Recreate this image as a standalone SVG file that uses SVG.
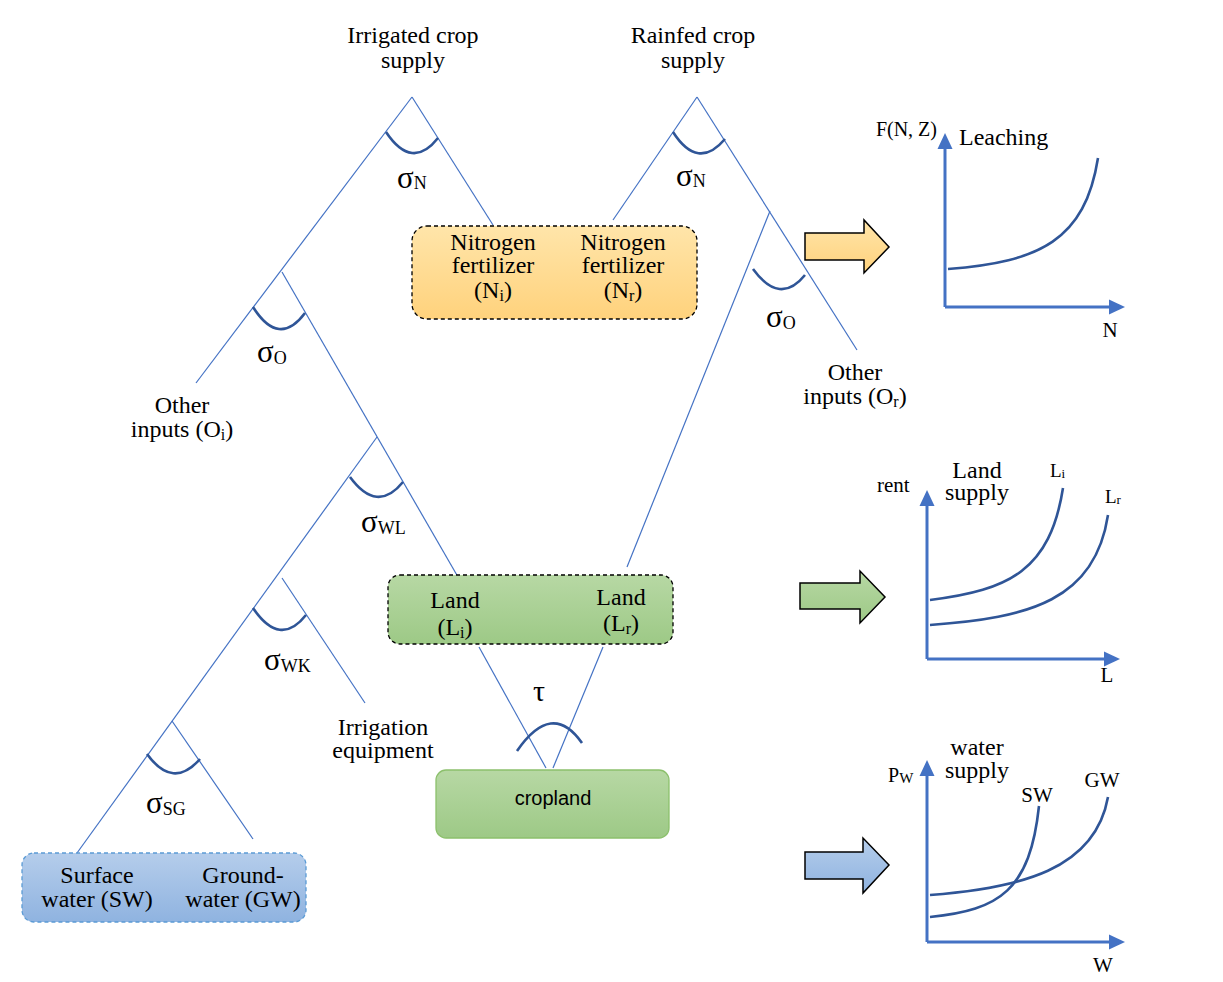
<svg xmlns="http://www.w3.org/2000/svg" width="1223" height="982" viewBox="0 0 1223 982">
<style>
.t{font-family:"Liberation Serif","Times New Roman",serif;font-size:24px;fill:#000;text-anchor:middle}
.s{font-family:"Liberation Serif","Times New Roman",serif;font-size:31px;fill:#000}
.sub{font-size:18px}
.lab{font-family:"Liberation Serif","Times New Roman",serif;font-size:21px;fill:#000}
.edge{stroke:#4472C4;stroke-width:1.2;fill:none}
.arc{stroke:#2F5597;stroke-width:2.6;fill:none}
.axis{stroke:#4472C4;stroke-width:3;fill:none}
.head{fill:#4472C4}
.curve{stroke:#2F5597;stroke-width:2.6;fill:none}
.blk{stroke:#000;stroke-width:1.5}
</style>
<defs>
<linearGradient id="gO" x1="0" y1="0" x2="0" y2="1"><stop offset="0" stop-color="#FFE5AA"/><stop offset="1" stop-color="#FFD27C"/></linearGradient>
<linearGradient id="gG" x1="0" y1="0" x2="0" y2="1"><stop offset="0" stop-color="#B7D8A4"/><stop offset="1" stop-color="#9DC986"/></linearGradient>
<linearGradient id="gB" x1="0" y1="0" x2="0" y2="1"><stop offset="0" stop-color="#B5CDEB"/><stop offset="1" stop-color="#8FB3E0"/></linearGradient>
</defs>
<rect width="1223" height="982" fill="#fff"/>

<g id="connectors">
<line class="edge" x1="412" y1="97" x2="196" y2="383"/>
<line class="edge" x1="412" y1="97" x2="493" y2="225"/>
<line class="edge" x1="282" y1="272" x2="458" y2="577"/>
<line class="edge" x1="377" y1="437" x2="77" y2="853"/>
<line class="edge" x1="282" y1="578" x2="365" y2="703"/>
<line class="edge" x1="172" y1="721" x2="253" y2="839"/>
<line class="edge" x1="697" y1="97" x2="613" y2="220"/>
<line class="edge" x1="697" y1="97" x2="857" y2="350"/>
<line class="edge" x1="770" y1="211" x2="627" y2="567"/>
<line class="edge" x1="479" y1="647" x2="546" y2="768"/>
<line class="edge" x1="603" y1="647" x2="553" y2="768"/>
<path class="arc" d="M386,132 Q412,171 438,138"/>
<path class="arc" d="M673,132 Q698,171 725,139"/>
<path class="arc" d="M253,307 Q279,348 305,313"/>
<path class="arc" d="M350,477 Q377,514 403,482"/>
<path class="arc" d="M753,269 Q780,306 805,275"/>
<path class="arc" d="M253,608 Q280,648 306,615"/>
<path class="arc" d="M147,754 Q173,790 200,759"/>
<path class="arc" d="M517,751 Q552,700 582,743"/>
</g>

<g id="labels">
<text class="s" x="397" y="188">σ<tspan class="sub" dy="1">N</tspan></text>
<text class="s" x="676" y="186">σ<tspan class="sub" dy="1">N</tspan></text>
<text class="s" x="257" y="362">σ<tspan class="sub" dy="2">O</tspan></text>
<text class="s" x="766" y="327">σ<tspan class="sub" dy="2">O</tspan></text>
<text class="s" x="361" y="532">σ<tspan class="sub" dy="2">WL</tspan></text>
<text class="s" x="264" y="670">σ<tspan class="sub" dy="2">WK</tspan></text>
<text class="s" x="146" y="813">σ<tspan class="sub" dy="2">SG</tspan></text>
<text class="t" x="539" y="701" style="font-size:30px">τ</text>
</g>

<g id="irrigated-supply"><text class="t" x="413" y="43">Irrigated crop</text><text class="t" x="413" y="68">supply</text></g>
<g id="rainfed-supply"><text class="t" x="693" y="43">Rainfed crop</text><text class="t" x="693" y="68">supply</text></g>

<g id="nitrogen">
<rect x="412" y="226" width="285" height="93" rx="15" fill="url(#gO)" stroke="#000" stroke-width="1.3" stroke-dasharray="4,3"/>
<text class="t" x="493" y="250">Nitrogen</text><text class="t" x="493" y="273">fertilizer</text>
<text class="t" x="493" y="298">(N<tspan font-size="16" dy="3">i</tspan><tspan dy="-3">)</tspan></text>
<text class="t" x="623" y="250">Nitrogen</text><text class="t" x="623" y="273">fertilizer</text>
<text class="t" x="623" y="298">(N<tspan font-size="16" dy="3">r</tspan><tspan dy="-3">)</tspan></text>
</g>

<g id="other-inputs-i"><text class="t" x="182" y="413">Other</text><text class="t" x="182" y="437">inputs (O<tspan font-size="16" dy="3">i</tspan><tspan dy="-3">)</tspan></text></g>
<g id="other-inputs-r"><text class="t" x="855" y="380">Other</text><text class="t" x="855" y="404">inputs (O<tspan font-size="16" dy="3">r</tspan><tspan dy="-3">)</tspan></text></g>
<g id="irrigation-equipment"><text class="t" x="383" y="735">Irrigation</text><text class="t" x="383" y="758">equipment</text></g>

<g id="land">
<rect x="388" y="575" width="285" height="69" rx="12" fill="url(#gG)" stroke="#000" stroke-width="1.3" stroke-dasharray="4,3"/>
<text class="t" x="455" y="608">Land</text><text class="t" x="455" y="635">(L<tspan font-size="16" dy="3">i</tspan><tspan dy="-3">)</tspan></text>
<text class="t" x="621" y="605">Land</text><text class="t" x="621" y="631">(L<tspan font-size="16" dy="3">r</tspan><tspan dy="-3">)</tspan></text>
</g>

<g id="cropland">
<rect x="436" y="770" width="233" height="68" rx="10" fill="url(#gG)" stroke="#8CC06C" stroke-width="1.3"/>
<text x="553" y="805" style="font-family:'Liberation Sans',Arial,sans-serif;font-size:20px;text-anchor:middle;fill:#000">cropland</text>
</g>

<g id="water">
<rect x="22" y="853" width="284" height="69" rx="12" fill="url(#gB)" stroke="#5B9BD5" stroke-width="1.3" stroke-dasharray="4,3"/>
<text class="t" x="97" y="883">Surface</text><text class="t" x="97" y="907">water (SW)</text>
<text class="t" x="243" y="883">Ground-</text><text class="t" x="243" y="907">water (GW)</text>
</g>

<g id="arrow-orange"><polygon class="blk" fill="url(#gO)" points="805,233 864,233 864,220 889,247 864,273 864,260 805,260"/></g>
<g id="arrow-green"><polygon class="blk" fill="url(#gG)" points="800,583 860,583 860,571 885,597 860,623 860,609 800,609"/></g>
<g id="arrow-blue"><polygon class="blk" fill="url(#gB)" points="805,852 863,852 863,838 889,865 863,893 863,879 805,879"/></g>

<g id="chart-leaching">
<line class="axis" x1="945" y1="307" x2="945" y2="147"/>
<polygon class="head" points="945,133 937.5,149 952.5,149"/>
<line class="axis" x1="945" y1="307" x2="1111" y2="307"/>
<polygon class="head" points="1125,307 1109,299.5 1109,314.5"/>
<path class="curve" d="M948,269 C1040,262 1085,240 1098,158"/>
<text class="lab" x="937" y="136" text-anchor="end" style="font-size:20px">F(N, Z)</text>
<text class="t" x="959" y="145" style="text-anchor:start">Leaching</text>
<text class="lab" x="1110" y="337" text-anchor="middle">N</text>
</g>

<g id="chart-land">
<line class="axis" x1="927" y1="659" x2="927" y2="504"/>
<polygon class="head" points="927,490 919.5,506 934.5,506"/>
<line class="axis" x1="927" y1="659" x2="1106" y2="659"/>
<polygon class="head" points="1120,659 1104,651.5 1104,666.5"/>
<path class="curve" d="M930,600 C1010,590 1050,570 1063,488"/>
<path class="curve" d="M930,625 C1030,618 1095,600 1108,515"/>
<text class="lab" x="877" y="492">rent</text>
<text class="t" x="977" y="478">Land</text><text class="t" x="977" y="500">supply</text>
<text class="lab" x="1050" y="477" style="font-size:19px">L<tspan font-size="13" dy="1">i</tspan></text>
<text class="lab" x="1105" y="503" style="font-size:19px">L<tspan font-size="13" dy="1">r</tspan></text>
<text class="lab" x="1107" y="682" text-anchor="middle">L</text>
</g>

<g id="chart-water">
<line class="axis" x1="927" y1="942" x2="927" y2="774"/>
<polygon class="head" points="927,760 919.5,776 934.5,776"/>
<line class="axis" x1="927" y1="942" x2="1111" y2="942"/>
<polygon class="head" points="1125,942 1109,934.5 1109,949.5"/>
<path class="curve" d="M930,895 C1020,888 1095,870 1108,797"/>
<path class="curve" d="M930,917 C1000,910 1030,890 1039,806"/>
<text class="lab" x="888" y="782" style="font-size:20px">P<tspan font-size="15" dy="1">W</tspan></text>
<text class="t" x="977" y="755">water</text><text class="t" x="977" y="778">supply</text>
<text class="lab" x="1037" y="802" text-anchor="middle">SW</text>
<text class="lab" x="1102" y="787" text-anchor="middle">GW</text>
<text class="lab" x="1103" y="972" text-anchor="middle">W</text>
</g>
</svg>
